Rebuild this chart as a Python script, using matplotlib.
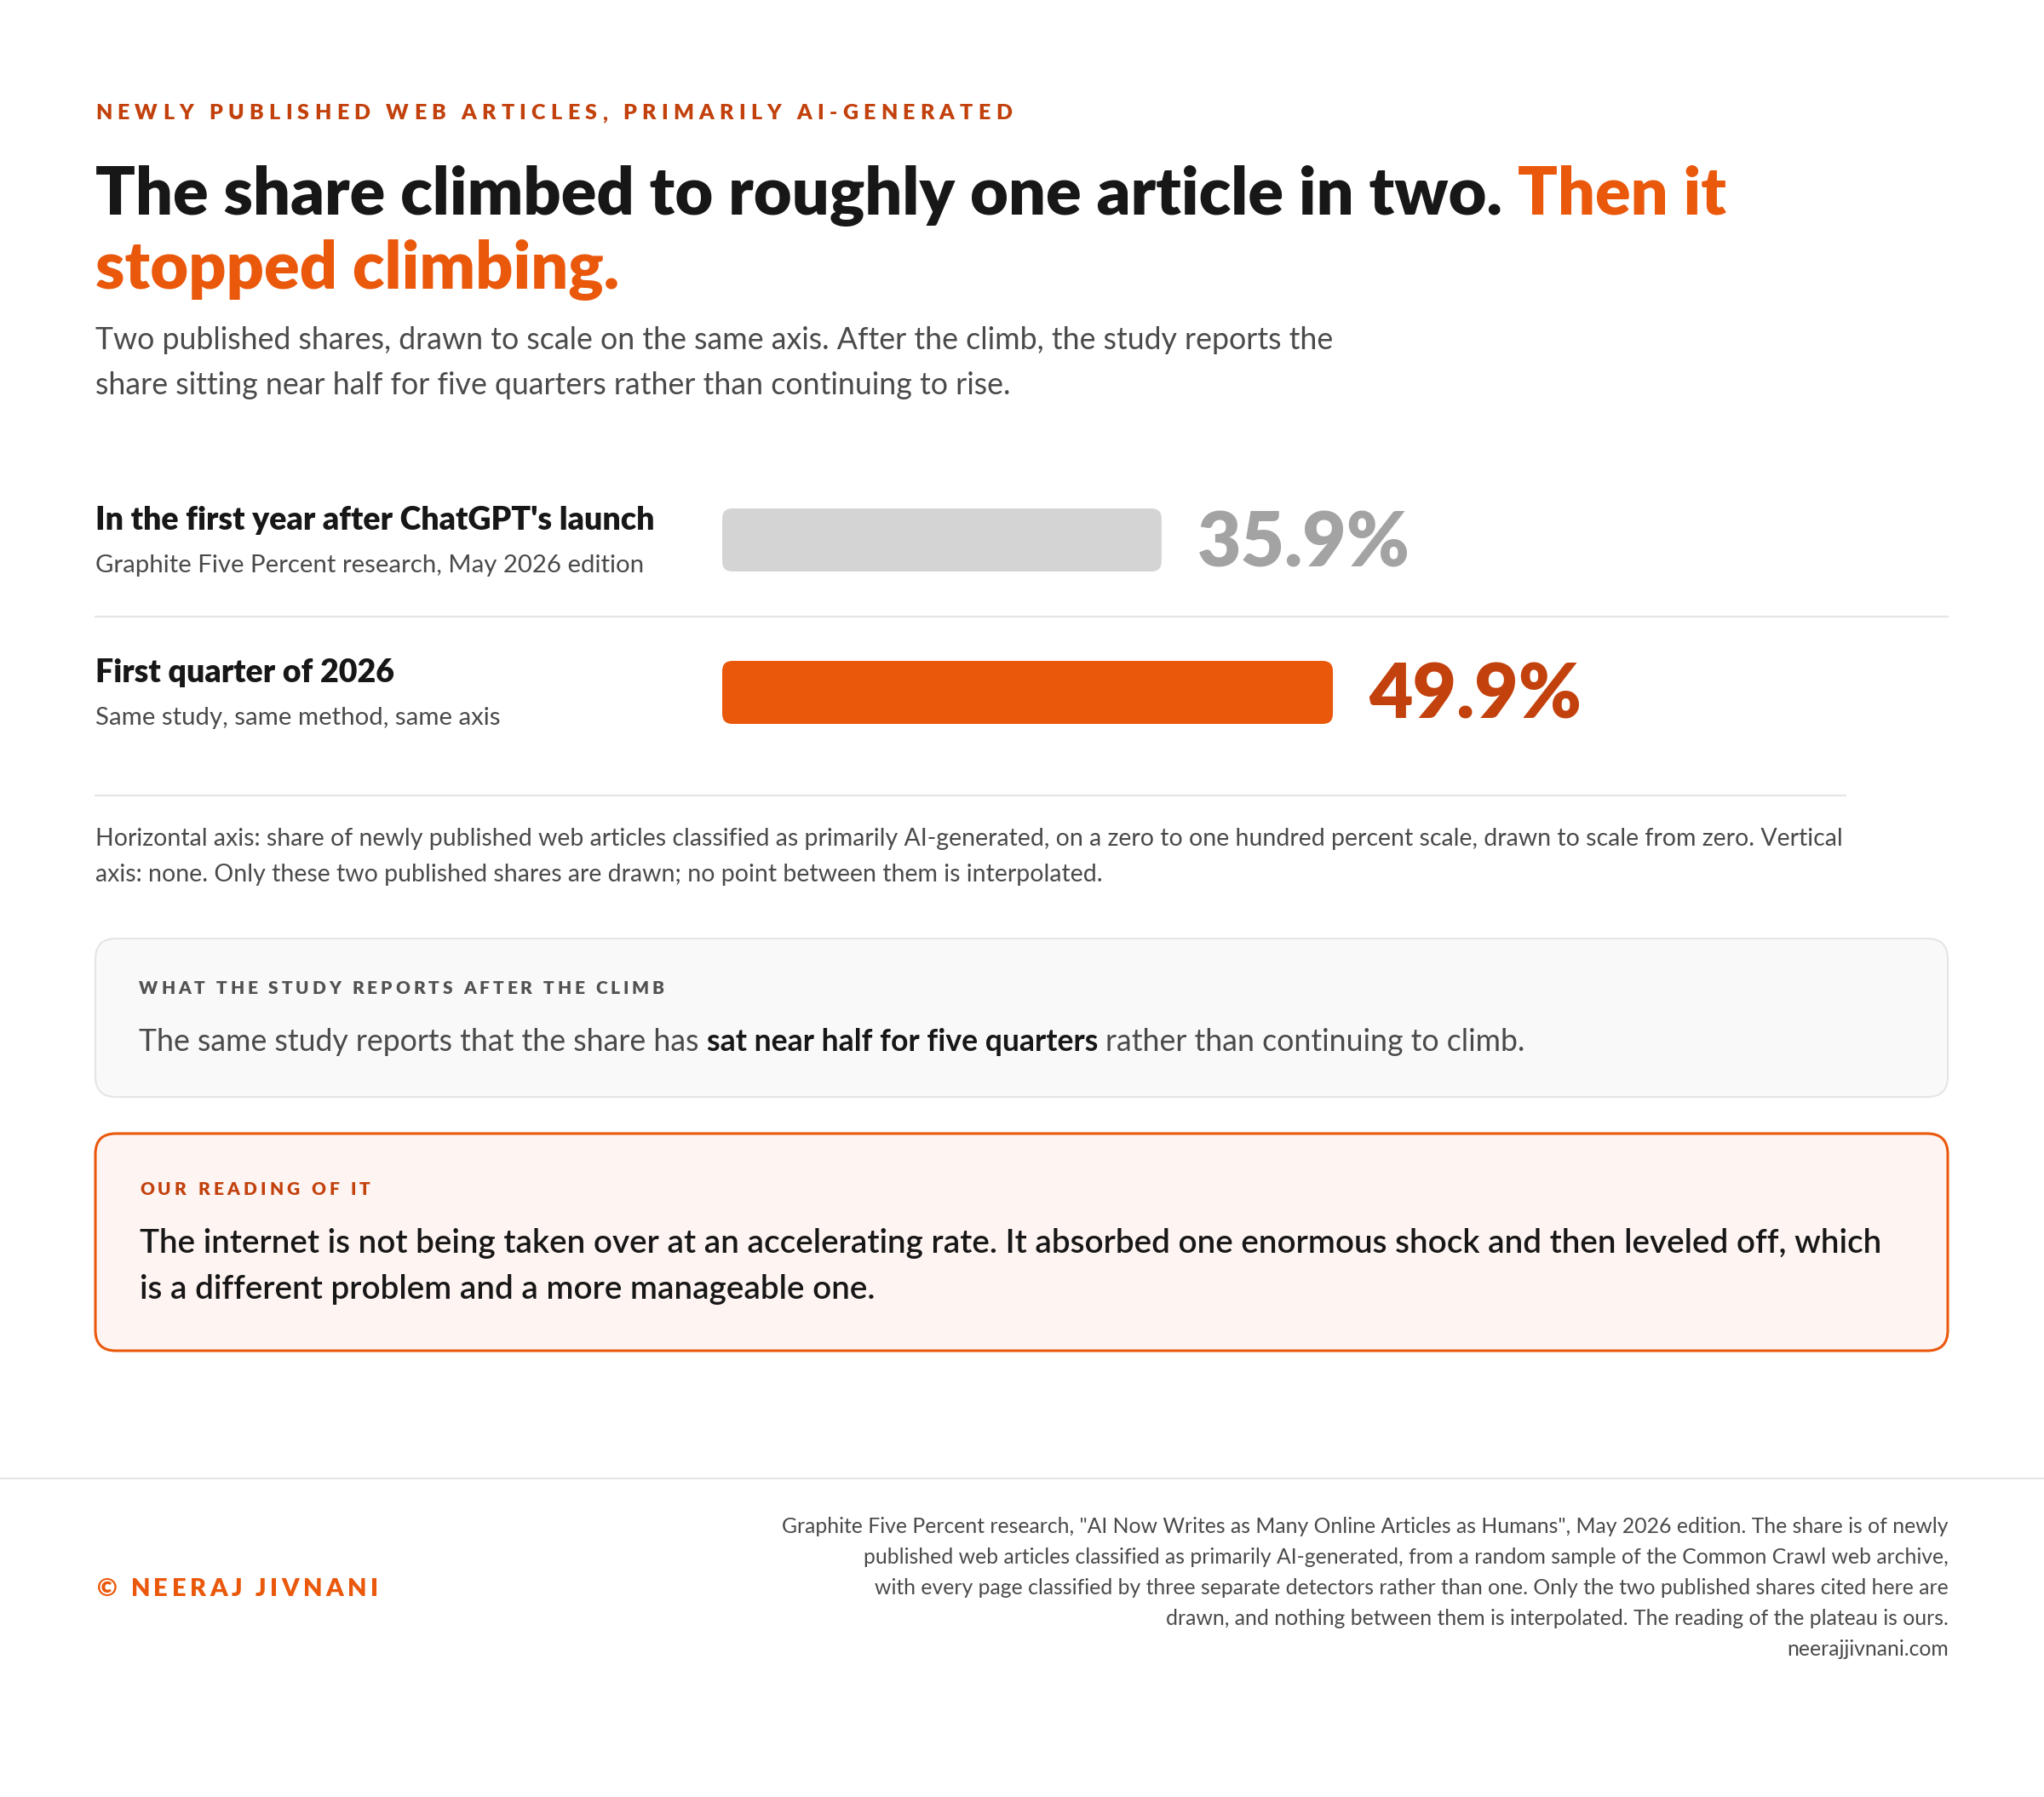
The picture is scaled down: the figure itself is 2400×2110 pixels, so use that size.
import matplotlib
matplotlib.use('Agg')
import matplotlib.pyplot as plt
from matplotlib.patches import FancyBboxPatch

plt.rcParams['font.family'] = ['Lato', 'DejaVu Sans']

# --- data / texts ---
kicker = "NEWLY PUBLISHED WEB ARTICLES, PRIMARILY AI-GENERATED"
title_dark = "The share climbed to roughly one article in two."
title_orange = ["Then it", "stopped climbing."]
subtitle = ["Two published shares, drawn to scale on the same axis. After the climb, the study reports the",
            "share sitting near half for five quarters rather than continuing to rise."]
row_titles = ["In the first year after ChatGPT's launch", "First quarter of 2026"]
row_notes = ["Graphite Five Percent research, May 2026 edition", "Same study, same method, same axis"]
shares = [35.9, 49.9]
bar_colors = ['#D4D4D4', '#EA580C']
value_colors = ['#A3A3A3', '#C2410C']
axis_note = ["Horizontal axis: share of newly published web articles classified as primarily AI-generated, on a zero to one hundred percent scale, drawn to scale from zero. Vertical",
             "axis: none. Only these two published shares are drawn; no point between them is interpolated."]
box1_head = "WHAT THE STUDY REPORTS AFTER THE CLIMB"
box1_body = ["The same study reports that the share has ", "sat near half for five quarters", " rather than continuing to climb."]
box2_head = "OUR READING OF IT"
box2_body = ["The internet is not being taken over at an accelerating rate. It absorbed one enormous shock and then leveled off, which",
             "is a different problem and a more manageable one."]
credit = "© NEERAJ JIVNANI"
source = ['Graphite Five Percent research, "AI Now Writes as Many Online Articles as Humans", May 2026 edition. The share is of newly',
          'published web articles classified as primarily AI-generated, from a random sample of the Common Crawl web archive,',
          'with every page classified by three separate detectors rather than one. Only the two published shares cited here are',
          'drawn, and nothing between them is interpolated. The reading of the plateau is ours.',
          'neerajjivnani.com']

ORANGE = '#EA580C'
RUST = '#C2410C'
INK = '#171717'
GREY = '#4A4A4A'

fig = plt.figure(figsize=(24, 21.1), dpi=100)
ax = fig.add_axes([0, 0, 1, 1])
ax.set_xlim(0, 2400)
ax.set_ylim(2110, 0)
ax.axis('off')
R = fig.canvas.get_renderer()


def tw(s, size, weight='normal'):
    t = ax.text(0, 0, s, fontsize=size, fontweight=weight)
    w = t.get_window_extent(R).width
    t.remove()
    return w


def fit(s, target, weight='normal'):
    return 20 * target / tw(s, 20, weight)


def rich_width(parts, size):
    w = 0
    for s, wt in parts:
        sp = tw('a a', size, wt) - tw('aa', size, wt)
        if s.startswith(' '):
            w += sp
        w += tw(s.strip(), size, wt)
        if s.endswith(' '):
            w += sp
    return w


def rich(x, y, parts, size):
    # parts: (text, color, weight)
    for s, c, wt in parts:
        sp = tw('a a', size, wt) - tw('aa', size, wt)
        if s.startswith(' '):
            x += sp
        core = s.strip()
        ax.text(x, y, core, fontsize=size, fontweight=wt, color=c, va='baseline')
        x += tw(core, size, wt)
        if s.endswith(' '):
            x += sp
    return x


def spaced(x, y, s, size, weight, color, target):
    sp = tw('a a', size, weight) - tw('aa', size, weight)
    ws = [sp if ch == ' ' else tw(ch, size, weight) for ch in s]
    gap = (target - sum(ws)) / (len(s) - 1)
    for ch, w in zip(s, ws):
        if ch != ' ':
            ax.text(x, y, ch, fontsize=size, fontweight=weight, color=color, va='baseline')
        x += w + gap


L = 112

# kicker
spaced(L, 140, kicker, 18, 'heavy', RUST, 1076)

# title
ts = fit(title_dark + " " + title_orange[0], 1919, 'heavy')
x = rich(L, 252, [(title_dark + " ", INK, 'heavy')], ts)
ax.text(x, 252, title_orange[0], fontsize=ts, fontweight='heavy', color=ORANGE, va='baseline')
ax.text(L, 339, title_orange[1], fontsize=ts, fontweight='heavy', color=ORANGE, va='baseline')

# subtitle
ss = fit(subtitle[0], 1458)
for i, line in enumerate(subtitle):
    ax.text(L, 410 + 53 * i, line, fontsize=ss, color=GREY, va='baseline')

# rows
rs = fit(row_titles[0], 657, 'heavy')
ns = fit(row_notes[0], 647)
vs = fit("35.9%", 250, 'heavy')
bx = fig.add_axes([848 / 2400, 0, 1437 / 2400, 1])
bx.set_xlim(0, 100)
bx.set_ylim(2110, 0)
bx.axis('off')
px_per_pct = 1437 / 100
bar_top = [597, 776]
bar_h = 74
for i, v in enumerate(shares):
    ax.text(L, bar_top[i] + 25, row_titles[i], fontsize=rs, fontweight='heavy', color=INK, va='baseline')
    ax.text(L, bar_top[i] + 75, row_notes[i], fontsize=ns, color=GREY, va='baseline')
    bx.add_patch(FancyBboxPatch((0, bar_top[i]), v, bar_h,
                                boxstyle='round,pad=0,rounding_size=%f' % (12 / px_per_pct),
                                mutation_aspect=px_per_pct, fc=bar_colors[i], ec='none'))
    bx.annotate(f"{v:.1f}%", xy=(v, bar_top[i] + bar_h / 2), xytext=(42, -31),
                textcoords='offset pixels', fontsize=vs, fontweight='heavy',
                color=value_colors[i], va='baseline', ha='left')

ax.plot([L, 2287], [724, 724], color='#E5E5E5', lw=1.5)
ax.plot([L, 2167], [934, 934], color='#E5E5E5', lw=1.5)

# axis note
an = fit(axis_note[0], 2055)
for i, line in enumerate(axis_note):
    ax.text(L, 993 + 42 * i, line, fontsize=an, color=GREY, va='baseline')

# box 1
ax.add_patch(FancyBboxPatch((L, 1102), 2175, 186, boxstyle='round,pad=0,rounding_size=24',
                            fc='#F9F9F9', ec='#E5E5E5', lw=1.5))
spaced(163, 1167, box1_head, 15, 'heavy', '#525252', 617)
b1 = 20 * 1633 / rich_width([(box1_body[0], 'normal'), (box1_body[1], 'bold'), (box1_body[2], 'normal')], 20)
rich(163, 1234, [(box1_body[0], GREY, 'normal'), (box1_body[1], INK, 'bold'), (box1_body[2], GREY, 'normal')], b1)

# box 2
ax.add_patch(FancyBboxPatch((L, 1331), 2175, 255, boxstyle='round,pad=0,rounding_size=24',
                            fc='#FEF4F1', ec=ORANGE, lw=2.2))
spaced(164, 1403, box2_head, 15, 'heavy', RUST, 271)
b2 = fit(box2_body[0], 2045, 'semibold')
for i, line in enumerate(box2_body):
    ax.text(164, 1471 + 54 * i, line, fontsize=b2, fontweight='semibold', color=INK, va='baseline')

# footer
ax.plot([0, 2400], [1736, 1736], color='#E5E5E5', lw=1.5)
spaced(114, 1874, credit, 21, 'heavy', ORANGE, 330)
fs = fit(source[0], 1367)
for i, line in enumerate(source):
    ax.text(2288, 1800 + 36 * i, line, fontsize=fs, color=GREY, va='baseline', ha='right')

fig.savefig('out.png', dpi=100, facecolor='white')
